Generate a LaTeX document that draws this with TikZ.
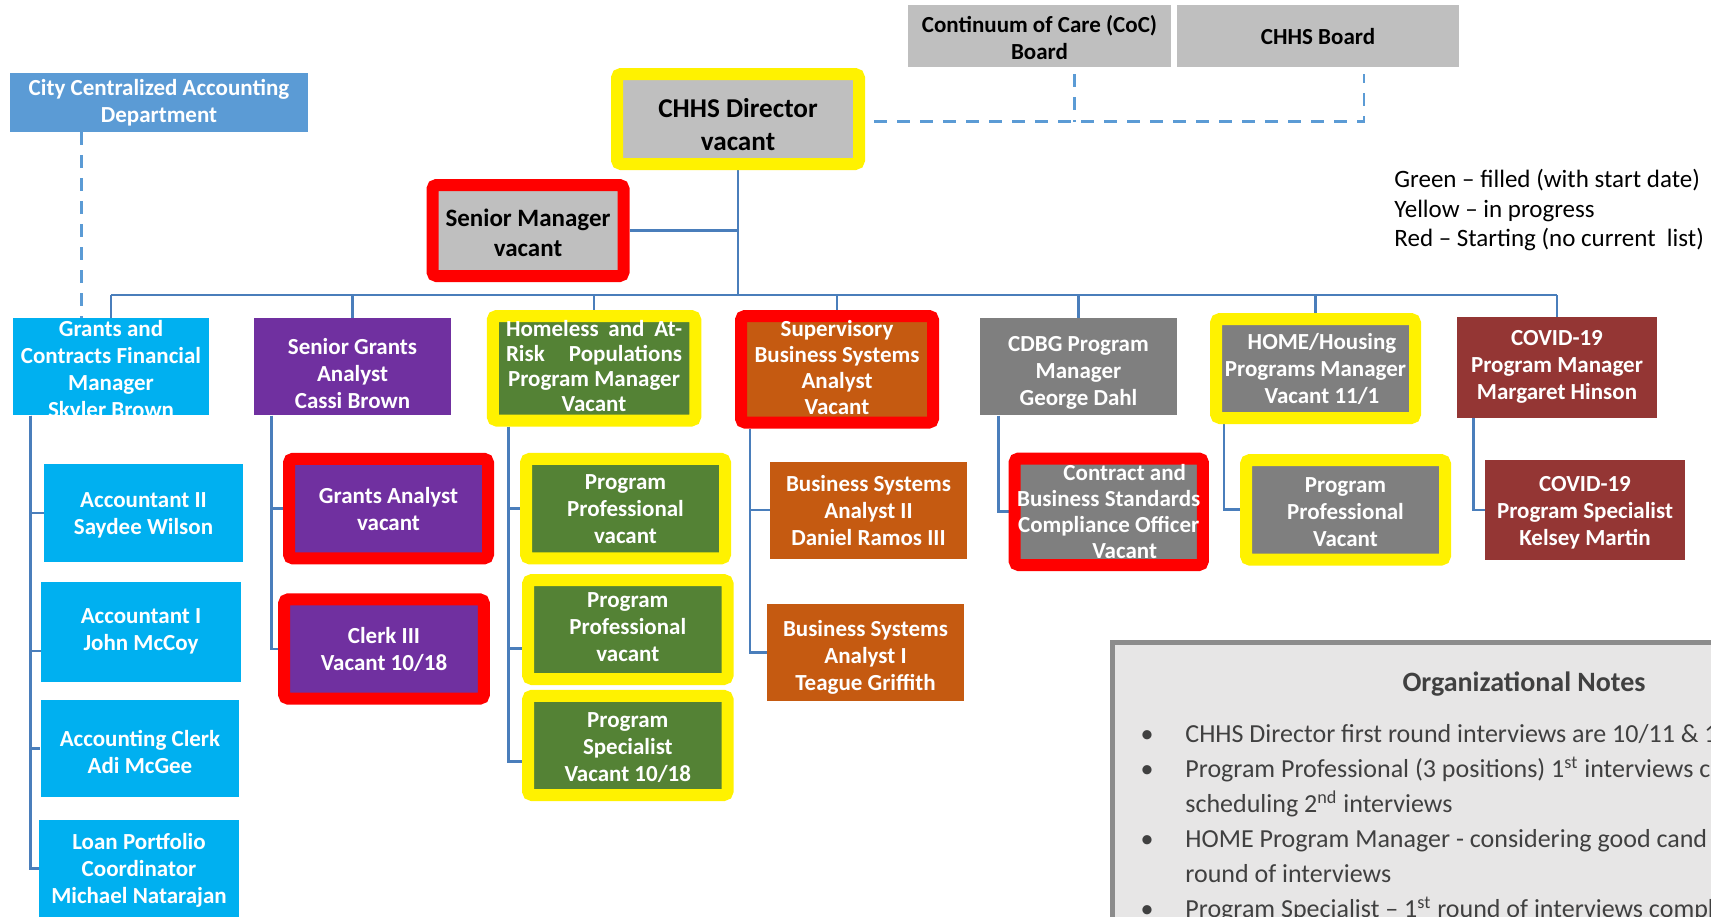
\documentclass[tikz,border=0pt]{standalone}
\usepackage{fontspec}
\setmainfont{Carlito}
\usetikzlibrary{positioning,backgrounds}

\definecolor{chartline}{HTML}{4A7EBB}
\definecolor{dashline}{HTML}{5B9BD5}
\definecolor{citybox}{HTML}{5B9BD5}
\definecolor{acctbox}{HTML}{00B0F0}
\definecolor{grantbox}{HTML}{7030A0}
\definecolor{homebox}{HTML}{548235}
\definecolor{bizbox}{HTML}{C55A11}
\definecolor{darkbox}{HTML}{7F7F7F}
\definecolor{covidbox}{HTML}{943634}
\definecolor{headbox}{HTML}{BFBFBF}
\definecolor{notefill}{HTML}{E7E6E6}
\definecolor{noteedge}{HTML}{8C8C8C}
\definecolor{notegrey}{HTML}{404040}

% text of a post, kept from growing the box (optional arg lowers it)
\newcommand\postlines[2][0pt]{\smash{\raisebox{\dimexpr-0.25em-1.5pt-#1\relax}{\begin{tabular}{@{}c@{}}#2\end{tabular}}}}

\tikzset{
  post/.style={inner sep=0pt, text=white, font=\bfseries\fontsize{11.5}{13.5}\selectfont},
  boxsize/.style 2 args={minimum width=#1*0.5pt, minimum height=#2*0.5pt},
  headpost/.style={post, fill=headbox, text=black},
  citypost/.style={post, fill=citybox},
  acctpost/.style={post, fill=acctbox},
  grantpost/.style={post, fill=grantbox},
  homepost/.style={post, fill=homebox},
  bizpost/.style={post, fill=bizbox},
  greypost/.style={post, fill=darkbox},
  covidpost/.style={post, fill=covidbox},
  inprogress/.style={draw=yellow, line width=6pt, rounded corners=2pt},
  starting/.style={draw=red, line width=6pt, rounded corners=2pt},
  link/.style={draw=chartline, line width=1.4pt},
  advisory/.style={draw=dashline, line width=1.4pt, dash pattern=on 6.5pt off 5pt},
  legendtext/.style={inner sep=0pt, anchor=base west, font=\fontsize{12.5}{14.75}\selectfont},
  notetext/.style={inner sep=0pt, anchor=base west, text=notegrey, font=\fontsize{13}{16}\selectfont},
  notetitle/.style={inner sep=0pt, text=notegrey, font=\bfseries\fontsize{14}{17}\selectfont},
}

\begin{document}
\begin{tikzpicture}[x=0.5pt, y=-0.5pt]
\useasboundingbox (0,0) rectangle (1711,916);
\begin{pgfonlayer}{background}
\fill[white] (0,0) rectangle (1711,916);
\end{pgfonlayer}

% boards and director
\node[citypost, boxsize={298}{59}] (city) at (159,102.5) {\postlines[-1pt]{City Centralized Accounting\\Department}};
\node[headpost, boxsize={263}{62}] (coc) at (1039.5,36) {\postlines[1pt]{Continuum of Care (CoC)\\Board}};
\node[headpost, boxsize={282}{62}] (chhsb) at (1318,36) {\postlines{CHHS Board}};
\node[headpost, inprogress, boxsize={242}{90}, font=\bfseries\fontsize{13.6}{16.5}\selectfont] (dir) at (738,119) {\postlines[3pt]{CHHS Director\\vacant}};
\node[headpost, starting, boxsize={191}{91}, font=\bfseries\fontsize{12.5}{15}\selectfont] (senmgr) at (528,230.5) {\postlines[0.75pt]{Senior Manager\\vacant}};

% managers
\node[acctpost, boxsize={196}{97}] (gcfm) at (111,366.75) {\postlines[1pt]{Grants and\\Contracts Financial\\Manager\\Skyler Brown}};
\node[grantpost, boxsize={197}{97}] (sga) at (352.5,366.75) {\postlines[3.5pt]{Senior Grants\\Analyst\\Cassi Brown}};
\node[homepost, inprogress, boxsize={202.5}{104.5}, font=\bfseries\fontsize{11.5}{12.5}\selectfont] (hapm) at (594,368.25) {\postlines[-1pt]{\makebox[88pt][s]{Homeless and At-}\\\makebox[88pt][s]{Risk Populations}\\Program Manager\\Vacant}};
\node[bizpost, starting, boxsize={192}{106.5}, font=\bfseries\fontsize{11.5}{13}\selectfont] (sbsa) at (837,369.25) {\postlines[-0.75pt]{Supervisory\\Business Systems\\Analyst\\Vacant}};
\node[greypost, boxsize={197}{97}] (cdbg) at (1078.5,366.75) {\postlines[1.75pt]{CDBG Program\\Manager\\George Dahl}};
\node[greypost, inprogress, boxsize={199}{99}] (home) at (1315.5,368.5) {\postlines{\hspace*{6.5pt}HOME/Housing\\Programs Manager\\\hspace*{6.5pt}Vacant 11/1}};
\node[covidpost, boxsize={200}{101}] (covpm) at (1557,367.5) {\postlines[-1.5pt]{COVID-19\\Program Manager\\Margaret Hinson}};

% staff
\node[acctpost, boxsize={199}{98}] (acc2) at (143.5,513) {\postlines{Accountant II\\Saydee Wilson}};
\node[acctpost, boxsize={200}{99.5}] (acc1) at (141,631.75) {\postlines[-1.5pt]{Accountant I\\John McCoy}};
\node[acctpost, boxsize={198.6}{97.4}] (aclerk) at (140,748.7) {\postlines[1.5pt]{Accounting Clerk\\Adi McGee}};
\node[acctpost, boxsize={200}{98}] (loan) at (139,868.5) {\postlines{Loan Portfolio\\Coordinator\\Michael Natarajan}};
\node[grantpost, starting, boxsize={199}{99.6}] (ganalyst) at (388.5,508.6) {\postlines{Grants Analyst\\vacant}};
\node[grantpost, starting, boxsize={199.7}{99.2}] (clerk3) at (384,649) {\postlines{Clerk III\\Vacant 10/18}};
\node[homepost, inprogress, boxsize={199}{99.6}] (pp1) at (625.5,508.6) {\postlines{Program\\Professional\\vacant}};
\node[homepost, inprogress, boxsize={199.6}{99}] (pp2) at (627.8,629.5) {\postlines[-1.5pt]{Program\\Professional\\vacant}};
\node[homepost, inprogress, boxsize={199.6}{99.2}] (pspec) at (627.8,745.4) {\postlines[0.5pt]{Program\\Specialist\\Vacant 10/18}};
\node[bizpost, boxsize={197}{97}] (bsa2) at (868.5,510) {\postlines{Business Systems\\Analyst II\\Daniel Ramos III}};
\node[bizpost, boxsize={197}{96.8}] (bsa1) at (865.5,652.4) {\postlines[1.5pt]{Business Systems\\Analyst I\\Teague Griffith}};
\node[greypost, starting, boxsize={188.2}{106.5}, font=\bfseries\fontsize{11.5}{13}\selectfont] (cbsco) at (1108.7,511.75) {\postlines{\hspace*{16pt}Contract and\\Business Standards\\Compliance Officer\\\hspace*{16pt}Vacant}};
\node[greypost, inprogress, boxsize={199}{99.6}] (pphome) at (1345.5,509.8) {\postlines[1pt]{Program\\Professional\\Vacant}};
\node[covidpost, boxsize={200}{99.7}] (covspec) at (1585,509.9) {\postlines{COVID-19\\Program Specialist\\Kelsey Martin}};

% legend
\node[legendtext] (legend1) at (1394,187.5) {Green – filled (with start date)};
\node[legendtext] (legend2) at (1394,217) {Yellow – in progress};
\node[legendtext] (legend3) at (1394,246.5) {Red – Starting (no current\ \ list)};

% connectors
\begin{pgfonlayer}{background}
\coordinate (bus) at (738,295);
\draw[link] (dir.south) -- (dir.south |- bus);
\draw[link] (senmgr.east) -- (senmgr.east -| dir.south);
\draw[link] (gcfm.north |- bus) -- (covpm.north |- bus);
\foreach \n in {gcfm,sga,hapm,sbsa,cdbg,home,covpm}
{
    \draw[link] (\n.north) -- (\n.north |- bus);
}
\draw[link] ([xshift=9pt]gcfm.south west) |- (acc2.west);
\draw[link] ([xshift=9pt]gcfm.south west) |- ([yshift=-9.6pt]acc1.west);
\draw[link] ([xshift=9pt]gcfm.south west) |- (aclerk.west);
\draw[link] ([xshift=9pt]gcfm.south west) |- (loan.west);
\draw[link] ([xshift=9pt]sga.south west) |- (ganalyst.west);
\draw[link] ([xshift=9pt]sga.south west) |- (clerk3.west);
\draw[link] ([xshift=10.7pt]hapm.south west) |- (pp1.west);
\draw[link] ([xshift=10.7pt]hapm.south west) |- ([yshift=-9.5pt]pp2.west);
\draw[link] ([xshift=10.7pt]hapm.south west) |- ([yshift=-8.2pt]pspec.west);
\draw[link] ([xshift=7.5pt]sbsa.south west) |- (bsa2.west);
\draw[link] ([xshift=7.5pt]sbsa.south west) |- (bsa1.west);
\draw[link] ([xshift=9.5pt]cdbg.south west) |- (cbsco.west);
\draw[link] ([xshift=7pt]home.south west) |- (pphome.west);
\draw[link] ([xshift=8.3pt]covpm.south west) |- (covspec.west);
% dotted reporting lines
\coordinate (citydrop) at ([xshift=36pt]city.south west);
\coordinate (dirlink) at ([xshift=4.5pt,yshift=-1.35pt]dir.east);
\coordinate (cocdrop) at ([xshift=17.5pt,yshift=-3.5pt]coc.south);
\coordinate (chhsdrop) at ([xshift=23pt,yshift=-3.5pt]chhsb.south);
\draw[advisory] (citydrop) -- (citydrop |- gcfm.north);
\draw[advisory] (dirlink) -- (chhsdrop |- dirlink) -- (chhsdrop);
\draw[advisory] (cocdrop) -- (cocdrop |- dirlink);
\end{pgfonlayer}

% notes
\begin{scope}
\clip (0,0) rectangle (1711,916);
\filldraw[fill=notefill, draw=noteedge, line width=2.5pt] (1112,642) rectangle (1760,960);
\node[notetitle] (notehead) at (1524,684) {Organizational Notes};
\foreach \y/\n in {742/1,777/2,847/4,917/6}
{
    \node[notetext, anchor=base] (dot\n) at (1147,\y) {\textbullet};
}
\node[notetext] (note1) at (1185,742) {CHHS Director first round interviews are 10/11 \& 1};
\node[notetext] (note2) at (1185,777) {Program Professional (3 positions) 1\textsuperscript{st} interviews c};
\node[notetext] (note3) at (1185,812) {scheduling 2\textsuperscript{nd} interviews};
\node[notetext] (note4) at (1185,847) {HOME Program Manager - considering good cand};
\node[notetext] (note5) at (1185,882) {round of interviews};
\node[notetext] (note6) at (1185,917) {Program Specialist – 1\textsuperscript{st} round of interviews compl};
\end{scope}
\end{tikzpicture}
\end{document}
